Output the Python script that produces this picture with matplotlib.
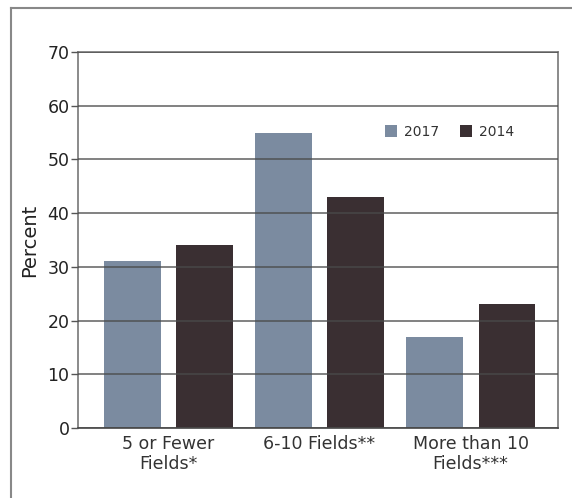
import matplotlib
matplotlib.use("Agg")
import matplotlib.pyplot as plt
from matplotlib.lines import Line2D
import numpy as np

categories = ["5 or Fewer\nFields*", "6-10 Fields**", "More than 10\nFields***"]
series_names = ["2017", "2014"]
values_2017 = [31, 55, 17]
values_2014 = [34, 43, 23]
y_ticks = [0, 10, 20, 30, 40, 50, 60, 70]

color_2017 = "#7b8ba0"
color_2014 = "#3a2f32"
grid_color = "#4a4a4a"

plt.rcParams["font.family"] = ["DejaVu Sans"]

fig = plt.figure(figsize=(5.72, 4.98), dpi=100)
fig.patch.set_facecolor("white")
ax = fig.add_axes([0.136, 0.1406, 0.840, 0.755])

x = np.arange(len(categories))
offset = 0.24
width = 0.375
ax.bar(x - offset, values_2017, width, color=color_2017, label=series_names[0], zorder=2)
ax.bar(x + offset, values_2014, width, color=color_2014, label=series_names[1], zorder=2)

ax.set_ylim(0, 70)
ax.set_xlim(-0.60, 2.58)
ax.set_yticks(y_ticks)
ax.yaxis.grid(True, color=grid_color, linewidth=1.3, alpha=0.75, zorder=3)
ax.set_axisbelow(False)
ax.tick_params(axis="y", length=5, width=1.0, color="#555555", labelsize=12.5, pad=1)
ax.tick_params(axis="x", length=0, labelsize=12.5, pad=5)
ax.set_xticks(x)
ax.set_xticklabels(categories, color="#333333", linespacing=1.15)
for lbl in ax.get_yticklabels():
    lbl.set_color("#222222")

for side in ["top", "right", "left", "bottom"]:
    ax.spines[side].set_color("#777777")
    ax.spines[side].set_linewidth(1.2)
ax.spines["bottom"].set_color("#444444")

ax.set_ylabel("Percent", fontsize=14, color="#222222", labelpad=6)

leg = ax.legend(loc="upper right", bbox_to_anchor=(0.935, 0.84), ncol=2, frameon=False,
                fontsize=10, handlelength=0.9, handleheight=0.9, columnspacing=1.5,
                handletextpad=0.5)
for t in leg.get_texts():
    t.set_color("#333333")

# Panel border: top and left edges of the surrounding box
fig.add_artist(Line2D([0.019, 1.0], [0.984, 0.984], transform=fig.transFigure,
                      color="#888888", linewidth=1.5))
fig.add_artist(Line2D([0.019, 0.019], [0.0, 0.984], transform=fig.transFigure,
                      color="#888888", linewidth=1.5))

fig.savefig("out.png", dpi=100)
